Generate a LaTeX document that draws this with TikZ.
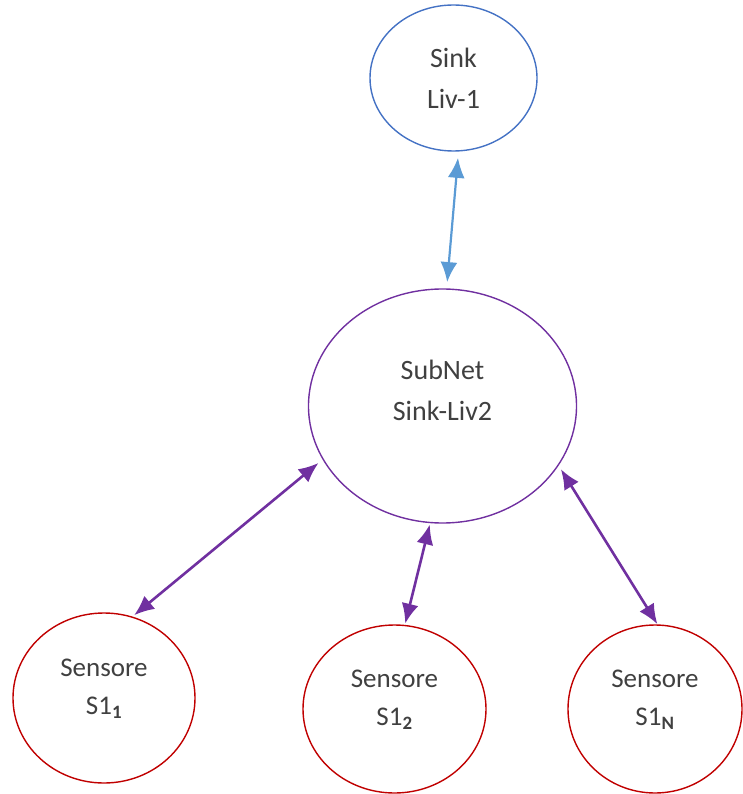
\documentclass[tikz,border=0pt]{standalone}
\usepackage{fontspec}
\setmainfont{Carlito}
\usetikzlibrary{arrows.meta,shapes.geometric}
\definecolor{sinkblue}{HTML}{4472C4}
\definecolor{linkblue}{HTML}{5B9BD5}
\definecolor{netpurple}{HTML}{7030A0}
\definecolor{sensred}{HTML}{C00000}
\definecolor{txtgray}{HTML}{404040}

\begin{document}
\begin{tikzpicture}[x=1pt,y=-1pt,
  bubble/.style={ellipse,draw,line width=1.4pt,inner sep=0pt,outer sep=0pt},
  sinknode/.style={bubble,draw=sinkblue},
  netnode/.style={bubble,draw=netpurple},
  sensnode/.style={bubble,draw=sensred},
  bigtxt/.style={align=center,text=txtgray,font=\fontsize{28}{41}\selectfont},
  senstxt/.style={align=center,text=txtgray,font=\fontsize{27}{38}\selectfont},
  uplink/.style={draw=linkblue,line width=2.2pt,{Latex[length=20pt,width=17pt]}-{Latex[length=20pt,width=17pt]}},
  sublink/.style={draw=netpurple,line width=2.6pt,{Latex[length=20pt,width=17pt]}-{Latex[length=20pt,width=17pt]}}
]
\useasboundingbox (0,0) rectangle (742,794);

% level-1 sink
\node[sinknode,minimum width=167pt,minimum height=146pt] (sink) at (453.5,78) {};
\node[bigtxt] (sinktxt) at (sink.center) {Sink\\Liv-1};

% level-2 subnet sink
\node[netnode,minimum width=268pt,minimum height=234pt] (subnet) at (442.5,406) {};
\node[bigtxt,yshift=16pt] (subnettxt) at (subnet.center) {SubNet\\Sink-Liv2};

% sensors
\node[sensnode,minimum width=182pt,minimum height=170pt] (s1) at (104,698) {};
\node[senstxt,yshift=9.5pt] (s1txt) at (s1.center) {Sensore\\S1\textsubscript{\textbf{1}}};

\node[sensnode,minimum width=183pt,minimum height=168pt] (s2) at (394.5,709) {};
\node[senstxt,yshift=9.5pt] (s2txt) at (s2.center) {Sensore\\S1\textsubscript{\textbf{2}}};

\node[sensnode,minimum width=174pt,minimum height=168pt] (sN) at (655,709) {};
\node[senstxt,yshift=9.5pt] (sNtxt) at (sN.center) {Sensore\\S1\textsubscript{\textbf{N}}};

% links
\draw[uplink,shorten <=7pt,shorten >=7pt] (sink.-86.8) -- (subnet.88.8);
\draw[sublink,shorten <=6pt,shorten >=3pt] (subnet.204.3) -- (s1.71.6);
\draw[sublink,shorten <=2pt,shorten >=2pt] (subnet.-96) -- (s2.83.7);
\draw[sublink,shorten <=5pt,shorten >=1pt] (subnet.-27.8) -- (sN.88.7);
\end{tikzpicture}
\end{document}
